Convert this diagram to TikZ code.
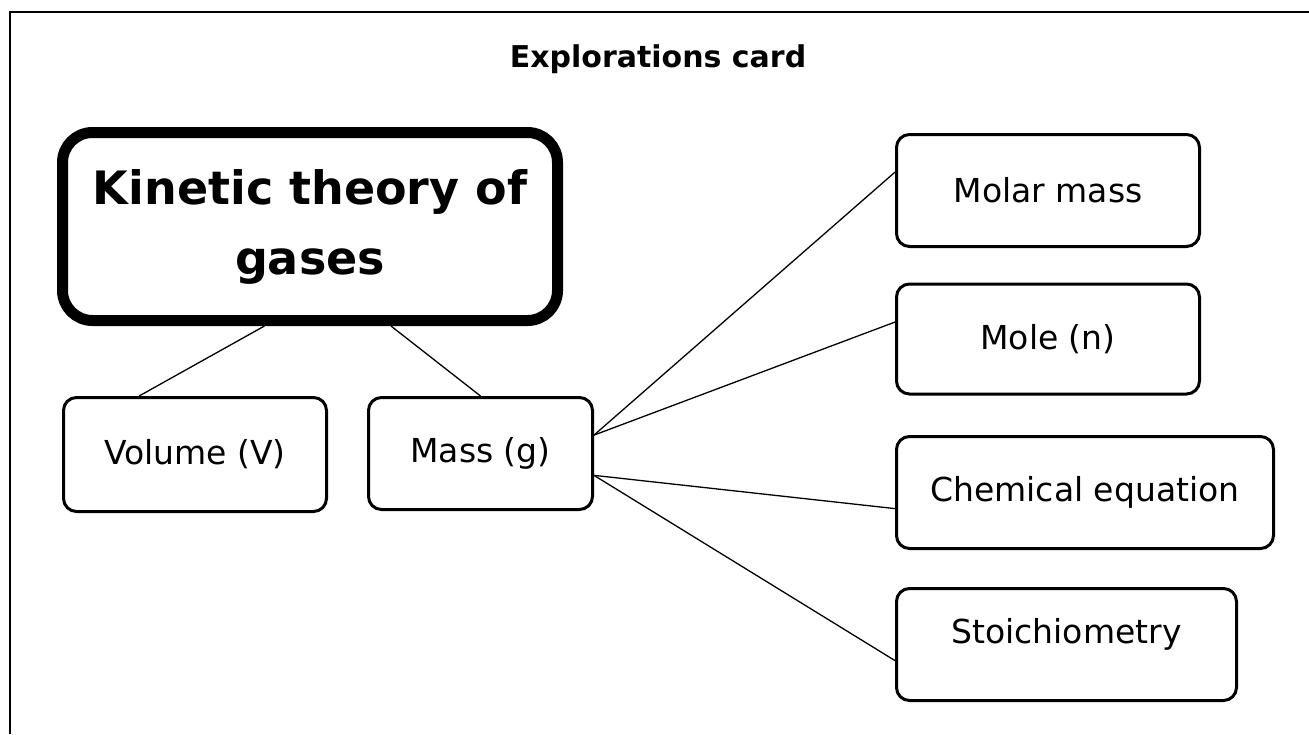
\documentclass[tikz,border=0pt]{standalone}
\usepackage{fontspec}
\setmainfont{DejaVu Sans}
\usetikzlibrary{calc}
\begin{document}
\begin{tikzpicture}[x=1pt,y=-1pt,
  card/.style={draw, line width=3pt, rounded corners=13pt, minimum height=112pt, inner sep=0pt, font=\fontsize{33}{40}\selectfont},
  topic/.style={draw, line width=11pt, rounded corners=30pt, align=center, font=\bfseries\fontsize{46}{70}\selectfont},
  link/.style={line width=1.3pt}]
\useasboundingbox (0,0) rectangle (1309,734);
\draw[line width=2.5pt] (10,734) -- (10,12) -- (1309,12);
\node[anchor=base, font=\bfseries\fontsize{30}{36}\selectfont] (title) at (658,67) {Explorations card};
% main topic and its two children
\node[topic, minimum width=495pt, minimum height=188pt] (kinetic) at (310,226.5) {Kinetic theory of\\gases};
\node[card, minimum width=263pt, minimum height=114pt] (volume) at (195,454.5) {Volume (V)};
\node[card, minimum width=224pt] (mass) at (480.5,453.5) {Mass (g)};
% right column
\node[card, minimum width=303pt] (molar) at (1048,190.5) {Molar mass};
\node[card, minimum width=303pt, minimum height=110pt] (mole) at (1048,339) {Mole (n)};
\node[card, minimum width=377pt] (chem) at (1085,492.5) {Chemical equation};
\node[card, minimum width=340pt, text depth=28pt] (stoich) at (1066.5,644.5) {Stoichiometry};
\draw[link] ($(kinetic.south west)!.41!(kinetic.south east)$) -- ($(volume.north west)!.29!(volume.north east)$);
\draw[link] ($(kinetic.south west)!.66!(kinetic.south east)$) -- (mass.north);
\draw[link] ($(mass.north east)!.34!(mass.south east)$) -- ($(molar.north west)!.34!(molar.south west)$);
\draw[link] ($(mass.north east)!.34!(mass.south east)$) -- ($(mole.north west)!.35!(mole.south west)$);
\draw[link] ($(mass.north east)!.69!(mass.south east)$) -- ($(chem.north west)!.64!(chem.south west)$);
\draw[link] ($(mass.north east)!.69!(mass.south east)$) -- ($(stoich.north west)!.64!(stoich.south west)$);
\end{tikzpicture}
\end{document}
